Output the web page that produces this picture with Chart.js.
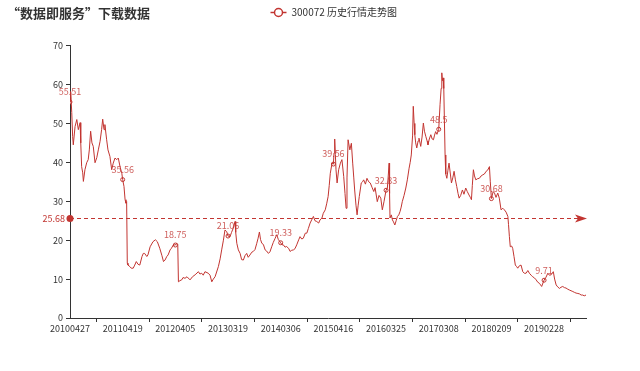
<!DOCTYPE html>
<html>
<head>
<meta charset="utf-8">
<title>300072 历史行情走势图</title>
<script src="https://cdn.jsdelivr.net/npm/chart.js@4"></script>
<style>
  body { margin: 0; background: #fff; }
  canvas { display: block; }
</style>
</head>
<body>
<canvas id="price-chart" width="640" height="371"></canvas>
<script>
// trading-day index (0 = 20100427) and close price
const tradeDays = [
    0, 3, 8, 12, 15, 23, 31, 38, 46, 49,
    53, 58, 61, 68, 76, 83, 88, 94, 100, 106,
    114, 122, 129, 137, 144, 149, 155, 159, 167, 173,
    182, 190, 197, 205, 213, 220, 228, 236, 240, 246,
    251, 255, 258, 261, 264, 273, 279, 288, 295, 302,
    310, 318, 328, 334, 340, 350, 355, 365, 378, 389,
    398, 409, 419, 426, 433, 441, 447, 456, 462, 471,
    480, 486, 491, 494, 501, 509, 515, 524, 533, 547,
    558, 570, 585, 592, 600, 607, 615, 630, 638, 646,
    653, 661, 676, 684, 691, 699, 706, 714, 720, 729,
    736, 744, 752, 755, 760, 767, 775, 782, 790, 797,
    805, 812, 820, 828, 835, 843, 851, 857, 863, 868,
    874, 881, 889, 896, 904, 911, 919, 926, 934, 942,
    949, 960, 966, 972, 980, 987, 997, 1003, 1010, 1018,
    1025, 1033, 1042, 1048, 1056, 1063, 1072, 1079, 1086, 1094,
    1101, 1109, 1116, 1124, 1133, 1139, 1148, 1154, 1163, 1170,
    1176, 1181, 1186, 1194, 1200, 1203, 1206, 1209, 1212, 1217,
    1224, 1232, 1239, 1247, 1253, 1258, 1262, 1267, 1275, 1282,
    1288, 1293, 1297, 1303, 1308, 1313, 1318, 1327, 1333, 1338,
    1346, 1353, 1361, 1368, 1376, 1384, 1390, 1400, 1408, 1416,
    1423, 1431, 1440, 1446, 1450, 1454, 1456, 1458, 1464, 1469,
    1474, 1480, 1486, 1492, 1498, 1504, 1509, 1514, 1522, 1530,
    1537, 1545, 1550, 1555, 1561, 1564, 1568, 1571, 1575, 1580,
    1586, 1590, 1598, 1604, 1610, 1615, 1621, 1627, 1631, 1637,
    1644, 1650, 1656, 1661, 1666, 1672, 1680, 1686, 1691, 1694,
    1697, 1700, 1702, 1704, 1709, 1712, 1717, 1722, 1727, 1733,
    1738, 1744, 1750, 1756, 1762, 1768, 1773, 1780, 1788, 1795,
    1803, 1810, 1818, 1824, 1829, 1833, 1838, 1843, 1849, 1857,
    1865, 1873, 1881, 1888, 1896, 1903, 1911, 1915, 1920, 1928,
    1934, 1941, 1949, 1956, 1964, 1972, 1979, 1987, 1995, 1998,
    2002, 2006, 2012, 2017, 2023, 2029, 2035, 2040, 2047, 2055,
    2063, 2070, 2078, 2086, 2093, 2101, 2108, 2116, 2124, 2131,
    2139, 2144, 2149, 2155, 2160, 2169, 2177, 2184, 2192, 2202,
    2208, 2215, 2222, 2230, 2237, 2245, 2253, 2260, 2268, 2275,
    2283, 2291, 2298, 2306, 2314, 2321, 2329, 2336, 2343, 2351
];
const closes = [
    55.51, 58.2, 52.8, 46.7, 44.5, 49.2, 51.0, 48.4, 50.2, 45.0,
    38.9, 37.3, 35.1, 38.1, 39.9, 40.7, 43.2, 48.0, 45.0, 44.1,
    39.9, 41.2, 43.2, 45.4, 48.4, 51.1, 48.4, 49.7, 45.8, 43.2,
    41.5, 38.1, 39.8, 41.1, 40.7, 41.1, 38.9, 37.2, 35.56, 33.8,
    30.4, 29.5, 29.9, 14.1, 13.6, 13.2, 12.8, 12.8, 13.6, 14.5,
    13.8, 13.6, 15.8, 16.6, 16.6, 15.8, 16.2, 18.3, 19.6, 20.1,
    19.6, 17.9, 16.0, 14.5, 14.9, 15.8, 16.2, 17.5, 17.9, 18.8,
    18.75, 19.2, 19.0, 9.3, 9.6, 9.8, 10.4, 10.2, 10.6, 9.8,
    10.6, 11.1, 11.9, 11.3, 11.5, 11.0, 11.9, 11.5, 11.0, 9.3,
    10.0, 10.6, 13.2, 15.2, 17.5, 20.0, 22.6, 22.2, 21.06, 20.9,
    22.0, 23.1, 24.8, 22.0, 19.2, 17.5, 16.6, 15.0, 14.9, 16.0,
    16.6, 15.6, 16.2, 16.9, 17.1, 17.6, 19.2, 20.5, 22.1, 20.2,
    19.2, 18.9, 17.5, 17.2, 16.6, 17.0, 18.3, 19.4, 20.4, 21.4,
    20.2, 19.33, 18.8, 18.8, 18.2, 18.4, 17.8, 17.1, 17.4, 17.5,
    17.8, 18.8, 20.1, 20.9, 20.3, 20.5, 21.8, 21.8, 23.0, 24.4,
    25.2, 26.1, 25.0, 24.8, 24.4, 25.2, 25.7, 26.9, 27.8, 29.5,
    31.2, 34.0, 37.2, 39.8, 39.56, 42.4, 46.0, 42.0, 38.1, 34.7,
    38.1, 39.8, 40.7, 36.4, 32.0, 28.2, 36.0, 45.8, 43.2, 44.9,
    39.8, 36.0, 32.9, 29.0, 26.5, 29.0, 31.2, 34.7, 35.0, 35.5,
    34.4, 35.9, 35.0, 34.7, 33.6, 32.5, 33.5, 29.9, 31.5, 30.8,
    27.8, 30.0, 32.83, 33.4, 36.5, 39.8, 32.0, 25.7, 26.5, 25.2,
    24.7, 23.9, 25.0, 26.1, 26.5, 27.4, 28.5, 29.9, 31.5, 33.4,
    35.5, 38.5, 40.0, 41.9, 47.0, 54.4, 50.0, 47.1, 45.0, 43.7,
    45.5, 46.2, 44.1, 46.5, 50.1, 48.0, 46.7, 45.5, 44.5, 46.0,
    47.1, 46.0, 45.8, 47.0, 47.9, 47.2, 48.5, 54.8, 59.0, 63.0,
    61.0, 61.7, 59.0, 59.1, 41.9, 37.0, 35.9, 38.0, 39.8, 37.0,
    34.7, 36.0, 37.7, 35.5, 33.8, 32.0, 30.8, 31.5, 32.9, 31.8,
    33.4, 32.5, 31.6, 31.0, 30.4, 34.0, 38.1, 36.5, 35.5, 35.8,
    35.9, 36.5, 36.8, 37.0, 37.7, 38.0, 38.9, 35.0, 30.68, 32.5,
    32.1, 31.0, 32.1, 30.8, 27.8, 28.2, 27.8, 27.2, 26.1, 24.0,
    20.9, 18.3, 18.5, 17.9, 15.8, 13.6, 13.2, 12.8, 13.4, 13.6,
    11.9, 11.5, 11.5, 12.2, 11.5, 11.0, 10.6, 10.3, 9.8, 9.2,
    8.9, 8.5, 8.1, 9.0, 9.71, 10.5, 11.5, 11.0, 11.1, 11.9,
    10.0, 8.5, 8.0, 7.6, 7.9, 8.1, 7.8, 7.7, 7.4, 7.2,
    7.0, 6.8, 6.6, 6.4, 6.3, 6.2, 5.9, 5.9, 5.7, 5.9
];

// x axis labels, one every 240 trading days
const tickDates = ['20100427', '20110419', '20120405', '20130319', '20140306',
                   '20150416', '20160325', '20170308', '20180209', '20190228'];
const labelStep = 240;
const lastDay = 2351;
const avgClose = 25.68;

const red = '#c23531';
const markDays = tickDates.map((d, i) => i * labelStep);
const markValues = markDays.map(d => closes[tradeDays.indexOf(d)]);

Chart.defaults.font.family = '"Noto Sans CJK SC", "Noto Sans", sans-serif';

// average line, mark point labels and the legend, drawn the echarts way
const overlay = {
    id: 'overlay',
    afterDatasetsDraw(chart) {
        const { ctx, chartArea } = chart;
        const yy = Math.round(chart.scales.y.getPixelForValue(avgClose)) + 0.5;
        ctx.save();

        ctx.strokeStyle = red;
        ctx.fillStyle = red;
        ctx.lineWidth = 1;
        ctx.setLineDash([4, 3]);
        ctx.beginPath();
        ctx.moveTo(chartArea.left, yy);
        ctx.lineTo(chartArea.right - 8, yy);
        ctx.stroke();
        ctx.setLineDash([]);

        ctx.beginPath();
        ctx.moveTo(chartArea.right + 1, yy);
        ctx.lineTo(chartArea.right - 11, yy - 4);
        ctx.lineTo(chartArea.right - 8, yy);
        ctx.lineTo(chartArea.right - 11, yy + 4);
        ctx.closePath();
        ctx.fill();

        ctx.beginPath();
        ctx.arc(chartArea.left, yy, 3.5, 0, Math.PI * 2);
        ctx.fill();

        ctx.font = '9px "Noto Sans CJK SC", sans-serif';
        ctx.textAlign = 'right';
        ctx.textBaseline = 'middle';
        ctx.fillText(avgClose.toFixed(2), chartArea.left - 5, yy);

        ctx.fillStyle = 'rgba(194, 53, 49, 0.8)';
        ctx.textAlign = 'center';
        chart.getDatasetMeta(1).data.forEach((pt, i) => {
            ctx.fillText(String(markValues[i]), pt.x, pt.y - 10);
        });

        // legend
        const lx = 278.5, ly = 12.5;
        ctx.lineWidth = 1.5;
        ctx.beginPath();
        ctx.moveTo(lx - 8, ly);
        ctx.lineTo(lx + 8, ly);
        ctx.stroke();
        ctx.beginPath();
        ctx.arc(lx, ly, 4, 0, Math.PI * 2);
        ctx.fillStyle = '#fff';
        ctx.fill();
        ctx.stroke();
        ctx.fillStyle = '#333';
        ctx.font = '10px "Noto Sans CJK SC", sans-serif';
        ctx.textAlign = 'left';
        ctx.fillText('300072 历史行情走势图', lx + 13, ly);

        ctx.restore();
    }
};

new Chart(document.getElementById('price-chart'), {
    type: 'line',
    data: {
        datasets: [{
            label: '300072 历史行情走势图',
            data: tradeDays.map((d, i) => ({ x: d, y: closes[i] })),
            borderColor: red,
            borderWidth: 1,
            pointRadius: 0,
            tension: 0,
            fill: false
        }, {
            label: 'markPoint',
            data: markDays.map((d, i) => ({ x: d, y: markValues[i] })),
            showLine: false,
            pointRadius: 2,
            pointBorderWidth: 1,
            pointBorderColor: red,
            pointBackgroundColor: '#fff'
        }]
    },
    options: {
        responsive: false,
        animation: false,
        layout: {
            padding: { left: 7, right: 54, bottom: 33 }
        },
        plugins: {
            legend: { display: false },
            tooltip: { enabled: false },
            title: {
                display: true,
                text: '“数据即服务”下载数据',
                align: 'start',
                color: '#333',
                font: { size: 13, weight: 'bold' },
                padding: { top: 5, bottom: 25 }
            }
        },
        scales: {
            x: {
                type: 'linear',
                min: 0,
                max: lastDay,
                afterBuildTicks: scale => {
                    const ticks = [];
                    for (let v = 0; v <= lastDay; v += labelStep / 2) {
                        ticks.push({ value: v });
                    }
                    scale.ticks = ticks;
                },
                afterFit: scale => { scale.height = 20; },
                ticks: {
                    autoSkip: false,
                    maxRotation: 0,
                    padding: 1,
                    color: '#333',
                    font: { size: 9 },
                    callback: value => value % labelStep === 0 ? tickDates[value / labelStep] : ''
                },
                grid: {
                    drawOnChartArea: false,
                    tickLength: 4,
                    tickColor: c => (c.tick && c.tick.value % labelStep) ? '#333' : 'rgba(0,0,0,0)'
                },
                border: { color: '#333' }
            },
            y: {
                min: 0,
                max: 70,
                afterFit: scale => { scale.width = 63; },
                ticks: {
                    stepSize: 10,
                    padding: 3,
                    color: '#333',
                    font: { size: 9 }
                },
                grid: {
                    drawOnChartArea: false,
                    tickLength: 4,
                    tickColor: '#333'
                },
                border: { color: '#333' }
            }
        }
    },
    plugins: [overlay]
});
</script>
</body>
</html>
